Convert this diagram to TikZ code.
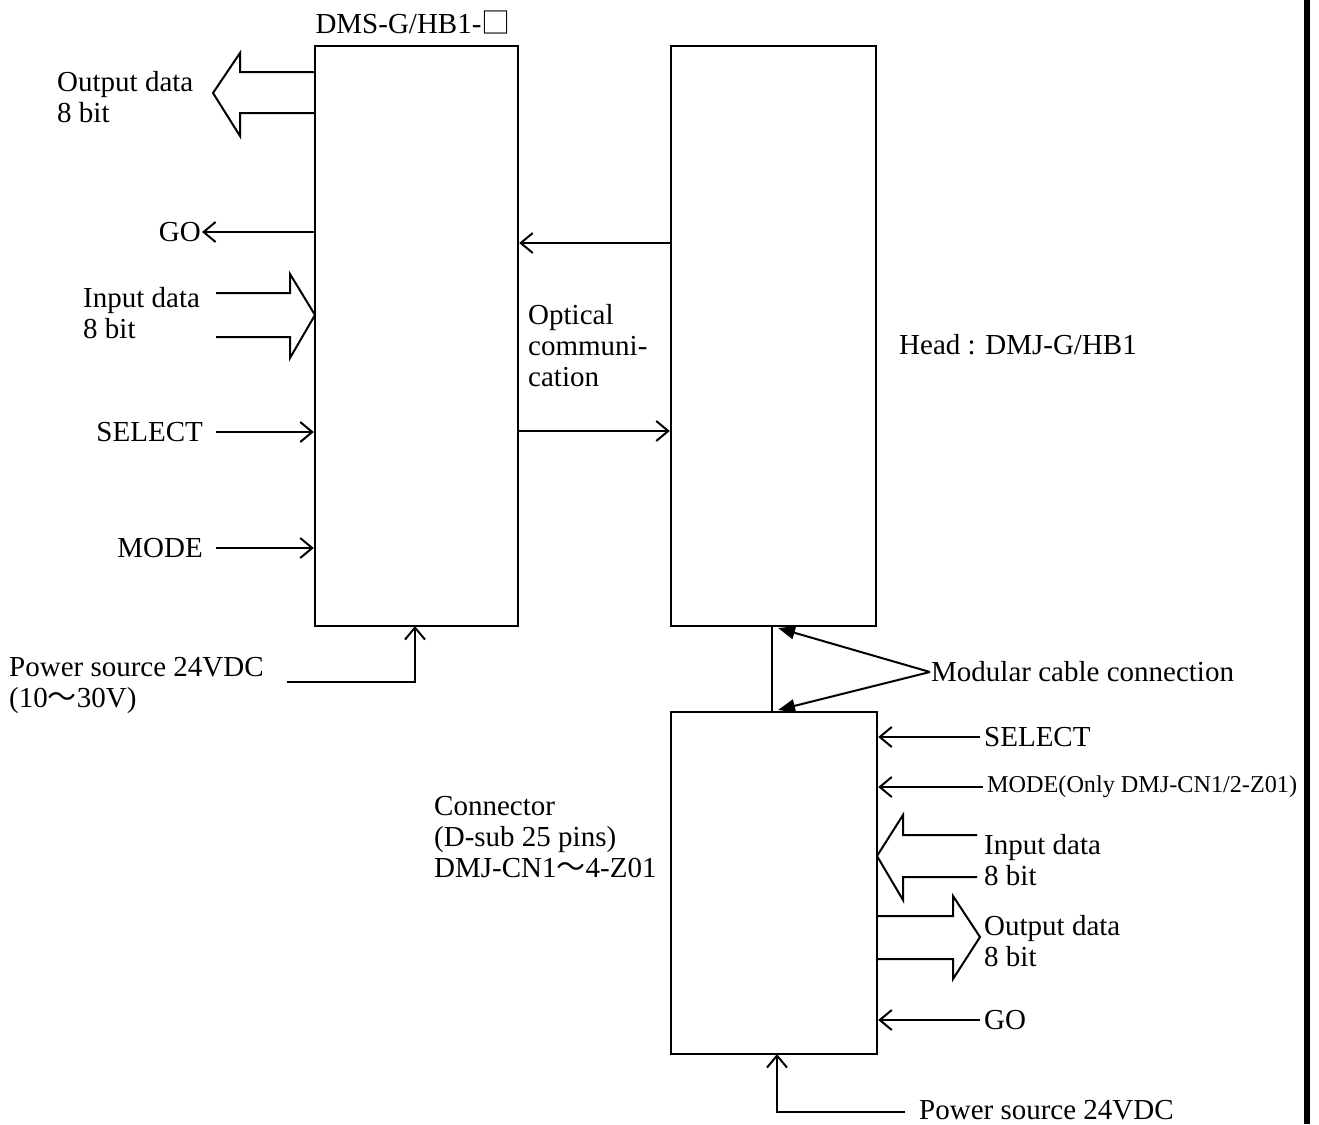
\documentclass[tikz,border=0pt]{standalone}
\usepackage{fontspec}
\setmainfont{Liberation Serif}
\newfontfamily\cjk{Noto Sans CJK JP}
\usetikzlibrary{arrows.meta}
\begin{document}
\begin{tikzpicture}[x=1pt,y=-1pt,
  ln/.style={line width=2pt},
  arr/.style={line width=2pt,-{Straight Barb[length=12pt,width=20pt,line width=2pt]}},
  tri/.style={line width=2pt,-{Triangle[length=17pt,width=13pt]}},
  blk/.style={draw,line width=2.4pt,inner sep=0pt},
  txt/.style={inner sep=1pt,align=left,font=\fontsize{29}{31}\selectfont},
  barrow/.style={line width=2pt,line join=miter}]
\path[use as bounding box] (0,0) rectangle (1319,1124);
\fill (1304,0) rectangle (1310,1124);

% boxes
\node[blk,minimum width=203pt,minimum height=580pt] (dms) at (416.5,336) {};
\node[blk,minimum width=205pt,minimum height=580pt] (head) at (773.5,336) {};
\node[blk,minimum width=206pt,minimum height=342pt] (conn) at (774,883) {};

% labels
\node[txt,anchor=center] (title) at (413,22) {DMS-G/HB1-{\cjk □}};
\node[txt,anchor=west] (out1) at (56,97.5) {Output data\\8 bit};
\node[txt,anchor=east] (go1) at (202,232) {GO};
\node[txt,anchor=west] (in1) at (82,313.5) {Input data\\8 bit};
\node[txt,anchor=east] (sel1) at (204,432) {SELECT};
\node[txt,anchor=east] (mode1) at (204,548) {MODE};
\node[txt,anchor=west] (pw1) at (8,685.5) {Power source 24VDC\\(10{\cjk ～}30V)};
\node[txt,anchor=west] (opt) at (527,346) {Optical\\communi-\\cation};
\node[txt,anchor=west] (headlbl) at (898,345) {Head : DMJ-G/HB1};
\node[txt,anchor=west] (mod) at (930,672) {Modular cable connection};
\node[txt,anchor=west] (sel2) at (983,737) {SELECT};
\node[txt,anchor=west,font=\fontsize{24.2}{26}\selectfont] (mode2) at (986,787) {MODE(Only DMJ-CN1/2-Z01)};
\node[txt,anchor=west] (in2) at (983,860.5) {Input data\\8 bit};
\node[txt,anchor=west] (out2) at (983,941.5) {Output data\\8 bit};
\node[txt,anchor=west] (go2) at (983,1020) {GO};
\node[txt,anchor=west] (pw2) at (918,1110) {Power source 24VDC};
\node[txt,anchor=west] (connlbl) at (433,837) {Connector\\(D-sub 25 pins)\\DMJ-CN1{\cjk ～}4-Z01};

% left side single arrows
\draw[arr] (go1.east -| dms.west) -- (go1.east);
\draw[arr] ([xshift=12pt]sel1.east) -- (sel1.east -| dms.west);
\draw[arr] ([xshift=12pt]mode1.east) -- (mode1.east -| dms.west);

% optical arrows
\coordinate (h1) at (head.west |- 0,243);
\coordinate (d2) at (dms.east |- 0,431);
\draw[arr] (h1) -- (h1 -| dms.east);
\draw[arr] (d2) -- (d2 -| head.west);

% power 1
\coordinate (p1s) at (287,682);
\coordinate (p1t) at (415,626);
\draw[arr] (p1s) -| (p1t);

% block arrows left
\draw[barrow] (315,72) -- (240,72) -- (240,53) -- (213,93) -- (240,136) -- (240,113) -- (315,113);
\draw[barrow] (216,293) -- (290,293) -- (290,274) -- (315,315) -- (290,358) -- (290,337) -- (216,337);

% cable
\coordinate (cab1) at (772,626);
\coordinate (cab2) at (772,712);
\draw[ln] (cab1) -- (cab2);
\draw[tri] (mod.west) -- (778,628);
\draw[tri] (mod.west) -- (778,710);

% right side single arrows
\draw[arr] ([xshift=-3pt]sel2.west) -- (sel2.west -| conn.east);
\draw[arr] ([xshift=-3pt]mode2.west) -- (mode2.west -| conn.east);
\draw[arr] ([xshift=-3pt]go2.west) -- (go2.west -| conn.east);

% block arrows right
\draw[barrow] (977,835) -- (903,835) -- (903,815) -- (877,856) -- (903,900) -- (903,877) -- (977,877);
\draw[barrow] (877,916) -- (953,916) -- (953,896) -- (980,937) -- (953,979) -- (953,959) -- (877,959);

% power 2
\coordinate (p2s) at (905,1112);
\coordinate (p2t) at (777,1054);
\draw[arr] (p2s) -| (p2t);
\end{tikzpicture}
\end{document}
